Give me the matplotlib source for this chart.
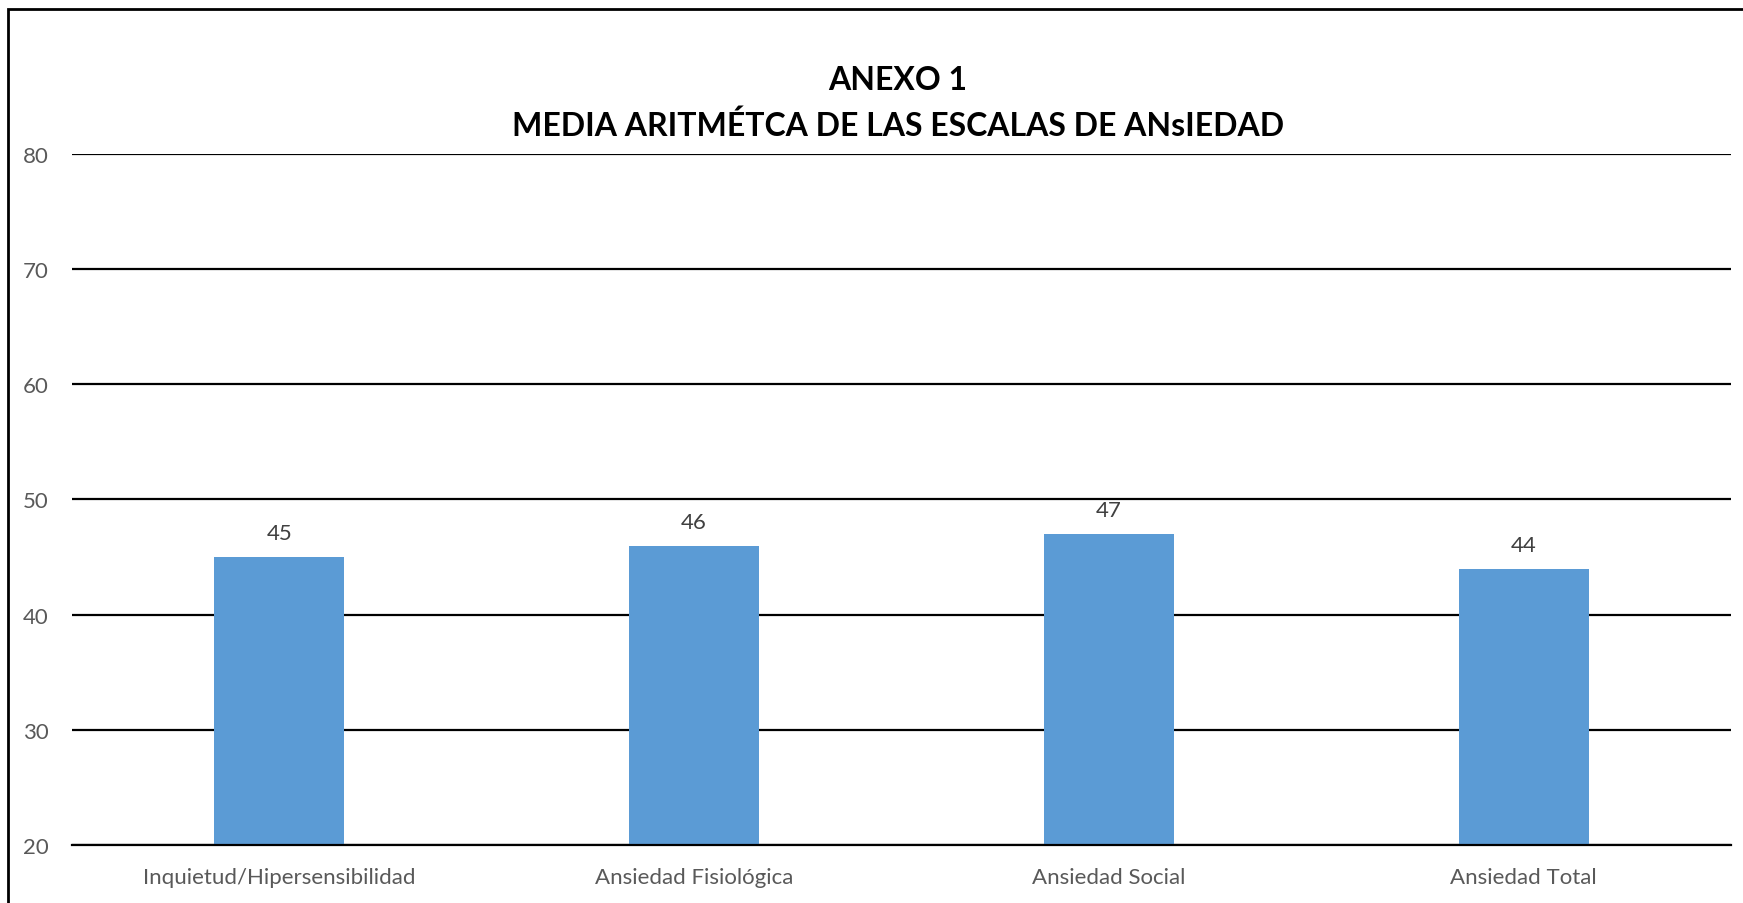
import matplotlib.pyplot as plt
from matplotlib.patches import Rectangle

categories = ['Inquietud/Hipersensibilidad', 'Ansiedad Fisiológica',
              'Ansiedad Social', 'Ansiedad Total']
values = [45, 46, 47, 44]
y_ticks = [20, 30, 40, 50, 60, 70, 80]

plt.rcParams['font.family'] = ['Lato', 'DejaVu Sans']

fig = plt.figure(figsize=(17.43, 9.04), dpi=100)
ax = fig.add_axes([0.0413, 0.0642, 0.9518, 0.7643])

x = range(len(categories))
ax.bar(x, values, width=0.313, color='#5B9BD5', zorder=3)

# value labels above the bars
for xi, v in zip(x, values):
    ax.annotate(str(v), (xi, v), xytext=(0, 10), textcoords='offset points',
                ha='center', va='bottom', fontsize=16, color='#404040')

ax.set_ylim(20, 80)
ax.set_xlim(-0.5, len(categories) - 0.5)
ax.set_yticks(y_ticks)
ax.set_xticks(list(x))
ax.set_xticklabels(categories)
ax.yaxis.grid(True, color='black', linewidth=1.6, zorder=0)
ax.set_axisbelow(True)
for side in ['left', 'right', 'top']:
    ax.spines[side].set_visible(False)
ax.spines['bottom'].set_linewidth(1.6)
ax.spines['bottom'].set_zorder(4)
ax.tick_params(axis='both', length=0, labelsize=16, colors='#595959')
ax.tick_params(axis='y', pad=17)
ax.tick_params(axis='x', pad=16)

fig.text(0.515, 1 - 80 / 904, 'ANEXO 1', ha='center', va='center',
         fontsize=23, fontweight='bold')
fig.text(0.515, 1 - 126 / 904, 'MEDIA ARITMÉTCA DE LAS ESCALAS DE ANsIEDAD',
         ha='center', va='center', fontsize=23, fontweight='bold')

# outer chart frame (runs off the right and bottom edge)
fig.patches.append(Rectangle((8 / 1743, -0.05), 1.1, 1 - 10 / 904 + 0.05,
                             transform=fig.transFigure, fill=False,
                             edgecolor='black', linewidth=2))

fig.savefig('out.png', dpi=100)
